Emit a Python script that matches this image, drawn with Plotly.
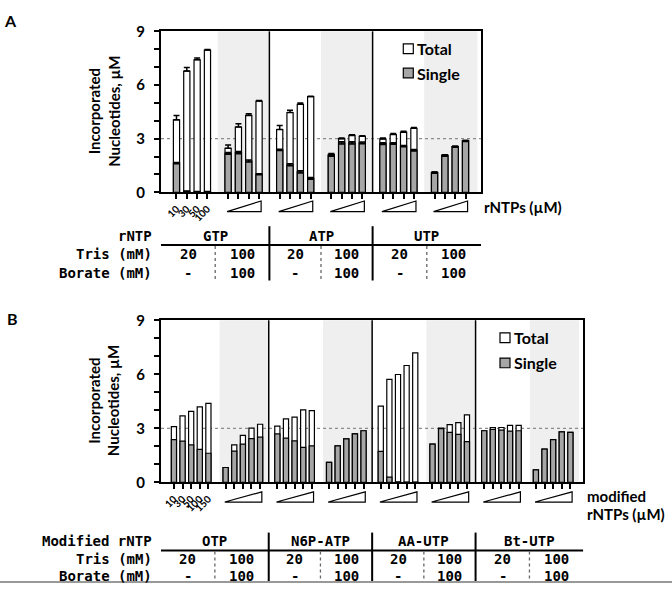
import plotly.graph_objects as go

W, H = 672, 591
def fx(px): return px / W
def fy(py): return 1 - py / H

# ---------------- Panel A data ----------------
A_conc_labels = ["10", "30", "50", "100"]
A_groups = ["GTP 20", "GTP 100", "ATP 20", "ATP 100", "UTP 20", "UTP 100"]
A_total = [
    [4.05, 6.78, 7.41, 7.95],
    [2.46, 3.65, 4.30, 5.10],
    [3.51, 4.46, 4.92, 5.35],
    [2.12, 3.00, 3.18, 3.13],
    [2.98, 3.23, 3.36, 3.58],
    [1.10, 2.06, 2.55, 2.87],
]
A_total_err = [
    [0.25, 0.20, 0.10, 0.04],
    [0.18, 0.18, 0.09, 0.03],
    [0.22, 0.12, 0.07, 0.02],
    [0.05, 0.04, 0.03, 0.03],
    [0.05, 0.05, 0.05, 0.04],
    [0.04, 0.04, 0.03, 0.03],
]
A_single = [
    [1.63, 0.05, 0.03, 0.03],
    [2.17, 2.22, 1.75, 1.01],
    [2.37, 1.54, 1.14, 0.78],
    [2.05, 2.76, 2.76, 2.76],
    [2.72, 2.73, 2.58, 2.35],
    [1.10, 2.06, 2.55, 2.87],
]
A_single_err = [
    [0.04, 0.02, 0.02, 0.02],
    [0.05, 0.06, 0.06, 0.03],
    [0.04, 0.06, 0.06, 0.05],
    [0.04, 0.06, 0.06, 0.05],
    [0.05, 0.04, 0.04, 0.04],
    [0.04, 0.04, 0.03, 0.03],
]
A_rntp = ["GTP", "ATP", "UTP"]
A_tris = ["20", "100"]
A_borate = ["-", "100"]

# ---------------- Panel B data ----------------
B_conc_labels = ["10", "30", "50", "100", "150"]
B_groups = ["OTP 20", "OTP 100", "N6P-ATP 20", "N6P-ATP 100",
            "AA-UTP 20", "AA-UTP 100", "Bt-UTP 20", "Bt-UTP 100"]
B_total = [
    [3.10, 3.69, 3.94, 4.19, 4.39],
    [0.83, 2.08, 2.61, 3.02, 3.23],
    [3.12, 3.53, 3.62, 4.03, 3.98],
    [1.11, 2.03, 2.42, 2.69, 2.87],
    [4.23, 5.72, 5.99, 6.49, 7.19],
    [2.13, 3.02, 3.21, 3.32, 3.75],
    [2.87, 3.05, 3.05, 3.17, 3.17],
    [0.70, 1.85, 2.38, 2.81, 2.78],
]
B_single = [
    [2.38, 2.29, 2.08, 1.83, 1.62],
    [0.83, 1.74, 2.13, 2.43, 2.51],
    [2.69, 2.46, 2.31, 1.95, 2.03],
    [1.11, 2.03, 2.42, 2.69, 2.87],
    [1.72, 0.30, 0.04, 0.02, 0.02],
    [2.13, 2.99, 2.78, 2.67, 2.26],
    [2.87, 2.94, 2.90, 2.85, 2.87],
    [0.70, 1.85, 2.38, 2.81, 2.78],
]
B_rntp = ["OTP", "N6P-ATP", "AA-UTP", "Bt-UTP"]
B_tris = ["20", "100"]
B_borate = ["-", "100"]

GRAY = "#a6a6a6"
SHADE = "#efefef"
SANS = "Lato"
MONO = "DejaVu Sans Mono"

fig = go.Figure()

def add_panel(totals, tot_err, singles, sing_err, nper, xa, ya):
    step = nper + 1
    xs, tv, te, sv, se = [], [], [], [], []
    for g in range(len(totals)):
        for i in range(nper):
            xs.append(g * step + i)
            tv.append(totals[g][i])
            sv.append(singles[g][i])
            te.append(tot_err[g][i] if tot_err else 0)
            se.append(sing_err[g][i] if sing_err else 0)
    fig.add_trace(go.Bar(
        x=xs, y=tv, width=0.6, xaxis=xa, yaxis=ya,
        marker=dict(color="white", line=dict(color="black", width=1.2)),
        error_y=dict(type="data", array=te, arrayminus=[0] * len(te),
                     symmetric=False, color="black", thickness=1.5, width=3,
                     visible=bool(tot_err)),
        showlegend=False, hoverinfo="skip"))
    fig.add_trace(go.Bar(
        x=xs, y=sv, width=0.6, xaxis=xa, yaxis=ya,
        marker=dict(color=GRAY, line=dict(color="black", width=1.2)),
        error_y=dict(type="data", array=se, color="black", thickness=1.5,
                     width=3, visible=bool(sing_err)),
        showlegend=False, hoverinfo="skip"))
    return xs

xsA = add_panel(A_total, A_total_err, A_single, A_single_err, 4, "x", "y")
xsB = add_panel(B_total, None, B_single, None, 5, "x2", "y2")

tickA = [A_conc_labels[i] if x < 4 else "" for i, x in zip(list(range(4)) * 6, xsA)]
tickB = [B_conc_labels[i] if x < 5 else "" for i, x in zip(list(range(5)) * 8, xsB)]

common_x = dict(showline=True, linecolor="black", linewidth=2, mirror=True,
                ticks="outside", ticklen=5, tickwidth=1.5, tickcolor="black",
                showgrid=False, zeroline=False, tickangle=-45,
                tickfont=dict(family=SANS, size=10, color="black", weight="bold"))
ytext = ["0", "", "", "3", "", "", "6", "", "", "9"]
common_y = dict(range=[0, 9], tickvals=list(range(10)), ticktext=ytext,
                showline=True, linecolor="black", linewidth=2, mirror=True,
                ticks="outside", ticklen=5, tickwidth=1.5, tickcolor="black",
                showgrid=False, zeroline=False, ticklabelstandoff=6,
                tickfont=dict(family=SANS, size=15, color="black", weight="bold"))

fig.update_layout(
    width=W, height=H, margin=dict(l=0, r=0, t=0, b=0),
    paper_bgcolor="white", plot_bgcolor="white", barmode="overlay",
    xaxis=dict(domain=[fx(161), fx(481)], range=[-1.5, 29.5], anchor="y",
               tickvals=xsA, ticktext=tickA, **common_x),
    yaxis=dict(domain=[fy(188), fy(22)], anchor="x", **common_y),
    xaxis2=dict(domain=[fx(161), fx(583.3)], range=[-1.5, 47.5], anchor="y2",
                tickvals=xsB, ticktext=tickB, **common_x),
    yaxis2=dict(domain=[fy(487.3), fy(320)], anchor="x2", **common_y),
)

shapes = []
ann = []

def panel_decor(xa, ya, nper, ngroups, dividers, shade_ends, tri_y):
    step = nper + 1
    for k, g in enumerate(range(1, ngroups, 2)):
        x0 = g * step - (1.0 if nper == 4 else 0.7)
        shapes.append(dict(type="rect", xref=xa, yref=ya + " domain", x0=x0,
                           x1=shade_ends[k], y0=0, y1=1, fillcolor=SHADE,
                           line=dict(width=0), layer="below"))
    shapes.append(dict(type="line", xref=xa + " domain", yref=ya, x0=0, x1=1,
                       y0=3, y1=3, line=dict(color="#8c8c8c", width=1.3, dash="dot"),
                       layer="below"))
    for d in dividers:
        shapes.append(dict(type="line", xref=xa, yref=ya + " domain", x0=d, x1=d,
                           y0=0, y1=1, line=dict(color="black", width=1.5)))
    yt, yb = fy(tri_y[0]), fy(tri_y[1])
    for g in range(1, ngroups):
        a = g * step - 0.1
        b = g * step + nper - 1 + 0.2
        shapes.append(dict(type="path", xref=xa, yref="paper",
                           path=f"M {a},{yb} L {b},{yt} L {b},{yb} Z",
                           line=dict(color="black", width=1.2), fillcolor="white"))

panel_decor("x", "y", 4, 6, [9, 19], [9, 19, 29.15], (197, 208))
panel_decor("x2", "y2", 5, 8, [11, 23, 35], [11, 23, 35, 47.0], (497, 507.5))

def table(xa, sections, rows_y, hline_y, vtop, vbot, names, tris, borates, labels):
    mono = dict(family=MONO, size=14, color="black", weight="bold")
    x_start, x_end = sections[0][0], sections[-1][1]
    shapes.append(dict(type="line", xref=xa, yref="paper", x0=x_start, x1=x_end,
                       y0=fy(hline_y), y1=fy(hline_y), line=dict(color="black", width=2)))
    for (a, b) in sections[1:]:
        shapes.append(dict(type="line", xref=xa, yref="paper", x0=a, x1=a,
                           y0=fy(vtop), y1=fy(vbot), line=dict(color="black", width=2)))
    for (a, b), nm in zip(sections, names):
        mid = (a + b) / 2
        shapes.append(dict(type="line", xref=xa, yref="paper", x0=mid, x1=mid,
                           y0=fy(hline_y + 1), y1=fy(vbot),
                           line=dict(color="#666666", width=1.3, dash="dot")))
        ann.append(dict(xref=xa, yref="paper", x=mid, y=fy(rows_y[0]), text=nm,
                        showarrow=False, font=mono, xanchor="center", yanchor="middle"))
        for j in range(2):
            cx = a + (b - a) * (0.25 + 0.5 * j)
            ann.append(dict(xref=xa, yref="paper", x=cx, y=fy(rows_y[1]), text=tris[j],
                            showarrow=False, font=mono, xanchor="center", yanchor="middle"))
            ann.append(dict(xref=xa, yref="paper", x=cx, y=fy(rows_y[2]), text=borates[j],
                            showarrow=False, font=mono, xanchor="center", yanchor="middle"))
    for lab, yy in zip(labels, rows_y):
        ann.append(dict(xref="paper", yref="paper", x=fx(154), y=fy(yy), text=lab,
                        showarrow=False, font=mono, xanchor="right", yanchor="middle"))

table("x", [(-1.5, 9), (9, 19), (19, 29.5)], (233, 252, 271), 242.3, 223, 279,
      A_rntp, A_tris, A_borate, ["rNTP", "Tris (mM)", "Borate (mM)"])
table("x2", [(-1.5, 11), (11, 23), (23, 35), (35, 47.5)], (548, 566.5, 584), 557.5, 539, 590,
      B_rntp, B_tris, B_borate, ["Modified rNTP", "Tris (mM)", "Borate (mM)"])

def legend(x0, yc1, yc2):
    for yc, col, txt in ((yc1, "white", "Total"), (yc2, GRAY, "Single")):
        shapes.append(dict(type="rect", xref="paper", yref="paper", x0=fx(x0), x1=fx(x0 + 10),
                           y0=fy(yc + 5), y1=fy(yc - 5), fillcolor=col,
                           line=dict(color="black", width=1.2)))
        ann.append(dict(xref="paper", yref="paper", x=fx(x0 + 12), y=fy(yc), text=txt,
                        showarrow=False, xanchor="left", yanchor="middle",
                        font=dict(family=SANS, size=16, color="black", weight="bold")))

legend(403.3, 40, 65)
legend(500, 338, 364)

sans_b = lambda s: dict(family=SANS, size=s, color="black", weight="bold")
for yc in (105, 403.5):
    ann.append(dict(xref="paper", yref="paper", x=fx(104), y=fy(yc),
                    text="Incorporated<br>Nucleotides, µM", textangle=-90,
                    showarrow=False, xanchor="center", yanchor="middle",
                    font=sans_b(15)))
ann.append(dict(xref="paper", yref="paper", x=fx(482), y=fy(203), text="rNTPs (µM)",
                showarrow=False, xanchor="left", yanchor="middle", font=sans_b(15)))
ann.append(dict(xref="paper", yref="paper", x=fx(585), y=fy(501), text="modified",
                showarrow=False, xanchor="left", yanchor="middle", font=sans_b(15)))
ann.append(dict(xref="paper", yref="paper", x=fx(585), y=fy(520), text="rNTPs (µM)",
                showarrow=False, xanchor="left", yanchor="middle", font=sans_b(15)))
ann.append(dict(xref="paper", yref="paper", x=fx(10), y=fy(11), text="A",
                showarrow=False, xanchor="center", yanchor="middle", font=sans_b(16)))
ann.append(dict(xref="paper", yref="paper", x=fx(12), y=fy(318), text="B",
                showarrow=False, xanchor="center", yanchor="middle", font=sans_b(16)))

shapes.append(dict(type="line", xref="paper", yref="paper", x0=0, x1=1,
                   y0=fy(590), y1=fy(590), line=dict(color="#999999", width=2)))

fig.update_layout(shapes=shapes, annotations=ann)
fig.write_html("out.html", config={"displayModeBar": False},
               post_script="document.body.style.margin='0';document.body.style.overflow='hidden';")
